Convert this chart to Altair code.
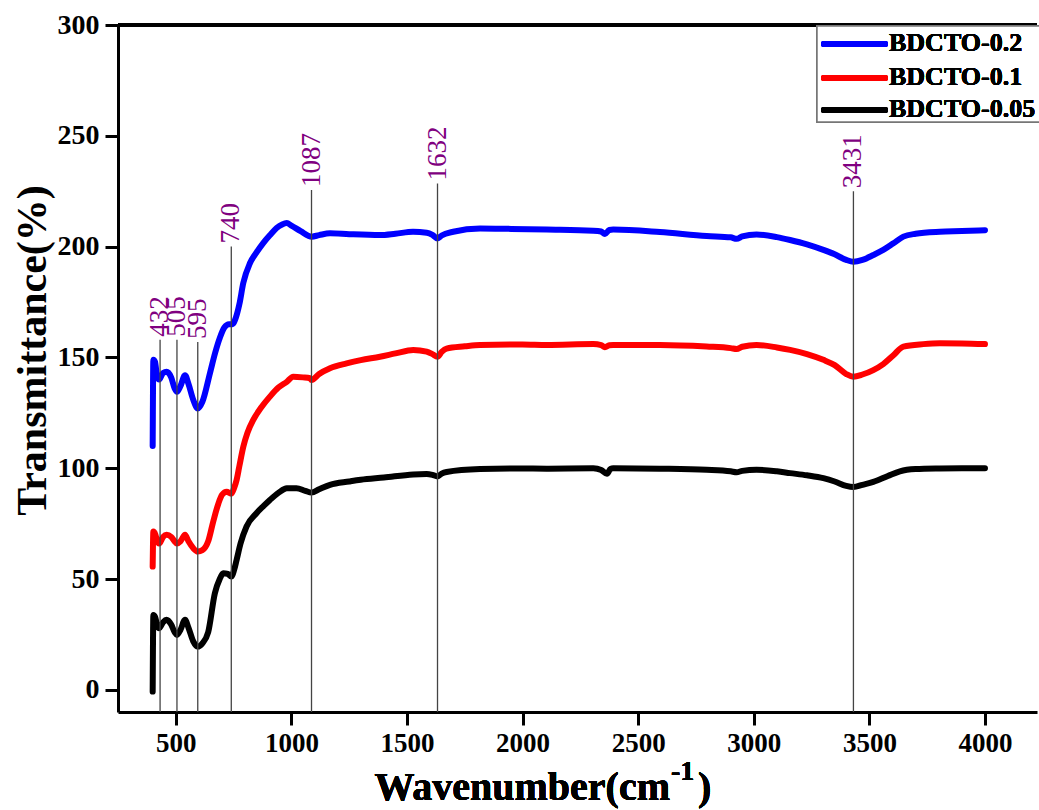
import altair as alt
import pandas as pd

# ---------------- data ----------------
names = ["BDCTO-0.2", "BDCTO-0.1", "BDCTO-0.05"]
colors = ["#0000FF", "#FF0000", "#000000"]

blue_x = [400, 403, 410, 420, 428, 445, 460, 480, 495, 505, 520, 540, 555, 575, 595, 615, 648, 670, 691, 710,
          730, 745, 760, 775, 792, 821, 850, 878, 910, 936, 960, 980, 1000, 1040, 1088, 1120, 1167, 1250, 1383,
          1450, 1526, 1585, 1610, 1632, 1650, 1700, 1816, 1950, 2104, 2306, 2340, 2356, 2375, 2392, 2594, 2796,
          2900, 2926, 2950, 3012, 3100, 3157, 3230, 3301, 3350, 3400, 3431, 3470, 3517, 3560, 3604, 3647, 3700,
          3805, 3900, 4000]
blue_y = [110, 149, 148, 141, 140, 143, 143.5, 141, 136, 134.5, 137, 142, 138, 131, 127, 130, 143, 152, 159, 163.5,
          165, 165, 168, 174, 183.6, 192.6, 197.5, 201.6, 205.5, 208.4, 210, 210.6, 209.5, 207, 204.5, 205.2, 206,
          205.6, 205.2, 205.8, 206.7, 206.3, 205.3, 203.7, 205, 206.7, 208.2, 208, 207.7, 207.2, 206.8, 205.7,
          207.5, 207.7, 206.6, 204.8, 204.2, 203.5, 204.6, 205.5, 204.3, 203, 201, 198.5, 196.5, 194, 193.2, 194,
          196.2, 198.5, 201.5, 204.5, 205.8, 206.7, 207, 207.4]

red_x = [400, 403, 412, 420, 428, 445, 460, 480, 495, 505, 520, 540, 555, 575, 595, 615, 640, 662, 684, 700, 720,
         740, 752, 763, 775, 792, 810, 835, 870, 907, 945, 980, 1008, 1050, 1080, 1087, 1120, 1167, 1239, 1300,
         1383, 1450, 1527, 1585, 1610, 1632, 1650, 1671, 1750, 1816, 2000, 2104, 2306, 2340, 2356, 2375, 2392,
         2594, 2796, 2900, 2926, 2950, 3012, 3100, 3157, 3230, 3301, 3350, 3400, 3431, 3470, 3517, 3560, 3604,
         3647, 3733, 3805, 3900, 4000]
red_y = [55.6, 71.4, 70, 67, 66, 69, 70, 69, 67, 66, 67, 70, 67, 64, 62.4, 63, 67, 76, 84, 88, 89.4, 88.5, 91,
         94.7, 101, 109.7, 116, 121.8, 127.5, 132.3, 136.5, 139, 141.3, 141, 140.6, 139.8, 142.5, 145.1, 147.3,
         148.8, 150.3, 151.8, 153.4, 152.6, 151.5, 150.3, 152.5, 154, 155, 155.6, 155.8, 155.6, 156, 155.5, 154.6,
         155.5, 155.6, 155.6, 154.9, 154.2, 153.8, 154.8, 155.6, 154.5, 153.4, 151.5, 148.9, 146.5, 142.5, 141.3,
         142.3, 144.3, 147, 151, 154.9, 156, 156.4, 156.3, 156]

black_x = [400, 403, 410, 420, 428, 445, 460, 480, 495, 505, 520, 540, 555, 575, 595, 615, 640, 669, 690,
           705, 725, 740, 752, 763, 780, 806, 849, 880, 907, 945, 980, 1022, 1060, 1087, 1120, 1167, 1250, 1300,
           1400, 1527, 1585, 1610, 1632, 1650, 1671, 1816, 2000, 2104, 2306, 2340, 2365, 2380, 2392, 2594, 2796,
           2900, 2926, 2950, 3012, 3100, 3157, 3230, 3301, 3350, 3400, 3431, 3470, 3517, 3580, 3632, 3700, 3805,
           3900, 4000]
black_y = [-0.8, 33.8, 33, 29, 27.8, 30.5, 31.6, 29.5, 26, 24.8, 27, 31.6, 28, 22, 19.5, 21, 26, 43.6, 50,
           52.6, 52.3, 51.1, 54, 58.6, 66, 73.7, 79.7, 83, 85.7, 89, 91, 91, 89.8, 89, 90.5, 92.5, 94, 94.8, 95.8,
           97.2, 97.4, 97, 96.3, 97.6, 98.3, 99.6, 99.9, 99.8, 100, 99.2, 97.5, 99.7, 100, 99.8, 99.3, 98.6, 98.2,
           98.8, 99.3, 98.6, 97.8, 96.8, 95.5, 94, 92, 91.5, 92.5, 93.8, 96.5, 98.6, 99.6, 99.9, 100, 100]

peak_pos = [432, 505, 595, 740, 1087, 1632, 3431]
peak_top = [158, 158, 157, 200, 225.5, 228.5, 225]

x_ticks = [500, 1000, 1500, 2000, 2500, 3000, 3500, 4000]
y_ticks = [0, 50, 100, 150, 200, 250, 300]

# ---------------- tables ----------------
rows = []
for name, xs, ys in zip(names, [blue_x, red_x, black_x], [blue_y, red_y, black_y]):
    for xv, yv in zip(xs, ys):
        rows.append({"wavenumber": xv, "T": yv, "sample": name})
df = pd.DataFrame(rows)
peaks = pd.DataFrame({"pos": peak_pos, "top": peak_top, "label": [str(p) for p in peak_pos]})

W, H = 919, 687
FONT = "Liberation Serif"

xscale = alt.Scale(domain=[250, 4225], nice=False, zero=False)
yscale = alt.Scale(domain=[-10, 300], nice=False, zero=False)

common_axis = dict(domainWidth=3, domainColor="black", tickWidth=3, tickSize=13, tickColor="black",
                   labelFont=FONT, labelFontWeight="bold", labelColor="black",
                   grid=False, format="d")

x_axis = alt.Axis(values=x_ticks, title=None, labelPadding=5, labelFontSize=27, **common_axis)
y_axis = alt.Axis(values=y_ticks, title="Transmittance(%)", labelPadding=6, labelFontSize=28,
                  titleFont=FONT, titleFontSize=42, titleFontWeight="bold", titleColor="black",
                  titleAngle=270, titleAlign="center", titleBaseline="middle", titleX=-86, titleY=325,
                  **common_axis)

curves = alt.Chart(df).mark_line(strokeWidth=6, interpolate="monotone", strokeCap="round",
                                 strokeJoin="round").encode(
    x=alt.X("wavenumber:Q", scale=xscale, axis=x_axis),
    y=alt.Y("T:Q", scale=yscale, axis=y_axis),
    color=alt.Color("sample:N", scale=alt.Scale(domain=names, range=colors), legend=None),
)

peak_rules = alt.Chart(peaks).mark_rule(color="#444444", strokeWidth=1.3).encode(
    x=alt.X("pos:Q", scale=xscale),
    y=alt.Y("top:Q", scale=yscale),
    y2=alt.value(H),
)

peak_text = alt.Chart(peaks).mark_text(angle=270, align="left", baseline="middle", dx=3, font=FONT,
                                       fontSize=27, color="#800080").encode(
    x=alt.X("pos:Q", scale=xscale),
    y=alt.Y("top:Q", scale=yscale),
    text="label:N",
)

top_line = alt.Chart(peaks).mark_rule(color="black", strokeWidth=3).encode(
    x=alt.value(0), x2=alt.value(W), y=alt.value(0))

# legend (drawn by hand)
leg_box = alt.Chart(peaks).mark_rect(fill="white", stroke="#777777", strokeWidth=1.5).encode(
    x=alt.value(699), x2=alt.value(W + 4), y=alt.value(1), y2=alt.value(97))
legend_layers = [leg_box]
row_y = [19, 53, 85]
for name, col, ry in zip(names, colors, row_y):
    legend_layers.append(alt.Chart(peaks).mark_rule(color=col, strokeWidth=6, strokeCap="round").encode(
        x=alt.value(706), x2=alt.value(767), y=alt.value(ry)))
    legend_layers.append(alt.Chart(peaks).mark_text(text=name, align="left", baseline="middle", font=FONT,
                                                    fontSize=26, fontWeight="bold", color="black").encode(
        x=alt.value(771), y=alt.value(ry - 1)))

# x-axis title with superscript
xt_main = alt.Chart(peaks).mark_text(text="Wavenumber(cm", align="right", baseline="alphabetic", font=FONT,
                                     fontSize=40, fontWeight="bold", color="black").encode(
    x=alt.value(552), y=alt.value(775))
xt_sup = alt.Chart(peaks).mark_text(text="-1", align="left", baseline="alphabetic", font=FONT,
                                    fontSize=28, fontWeight="bold", color="black").encode(
    x=alt.value(553), y=alt.value(755))
xt_close = alt.Chart(peaks).mark_text(text=")", align="left", baseline="alphabetic", font=FONT,
                                      fontSize=40, fontWeight="bold", color="black").encode(
    x=alt.value(580), y=alt.value(775))

chart = alt.layer(curves, peak_rules, peak_text, top_line, *legend_layers, xt_main, xt_sup, xt_close).properties(
    width=W, height=H,
    autosize=alt.AutoSizeParams(type="none"),
    padding={"left": 118, "top": 25, "right": 2, "bottom": 98},
    background="white",
).configure_view(stroke=None)

chart.save("out.html", embed_options={"renderer": "svg", "actions": False})
